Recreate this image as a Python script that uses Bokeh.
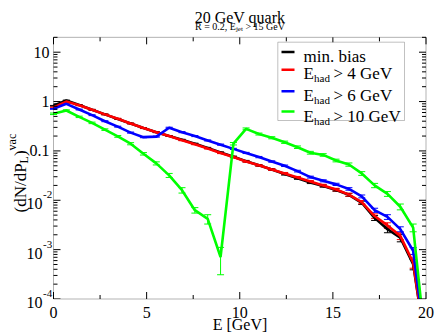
import math
from bokeh.plotting import figure
from bokeh.models import (Range1d, Label, BoxAnnotation, Whisker,
                          ColumnDataSource, TeeHead)
from bokeh.embed import file_html
from bokeh.resources import INLINE

# ---------------- data ----------------
energy = [0.0, 0.69, 1.38, 2.07, 2.76, 3.45, 4.14, 4.83, 5.52, 6.21,
          6.90, 7.59, 8.28, 8.97, 9.66, 10.34, 11.03, 11.72, 12.41, 13.10,
          13.79, 14.48, 15.17, 15.86, 16.55, 17.24, 17.93, 18.62, 19.31, 20.0]

min_bias = [0.82, 1.05, 0.85, 0.68, 0.55, 0.445, 0.36, 0.29, 0.24, 0.20,
            0.168, 0.14, 0.115, 0.093, 0.076, 0.062, 0.051, 0.042, 0.034, 0.028,
            0.023, 0.0195, 0.0162, 0.0129, 0.0089, 0.0044, 0.0026, 0.00174, 0.00051, 1e-5]
min_bias_err = [0.015, 0.02, 0.017, 0.014, 0.011, 0.009, 0.007, 0.006, 0.005, 0.004,
                0.004, 0.0035, 0.003, 0.0028, 0.0025, 0.0022, 0.002, 0.0018, 0.0016, 0.0014,
                0.0012, 0.0011, 0.001, 0.0009, 0.0007, 0.0005, 0.0004, 0.0003, 0.00012, 0.0]

had4 = [0.76, 1.0, 0.84, 0.68, 0.55, 0.45, 0.36, 0.29, 0.24, 0.20,
        0.165, 0.137, 0.112, 0.091, 0.075, 0.061, 0.051, 0.042, 0.035, 0.029,
        0.024, 0.020, 0.0165, 0.013, 0.0092, 0.0048, 0.0031, 0.0019, 0.00055, 1e-5]
had4_err = [0.015, 0.02, 0.017, 0.014, 0.011, 0.009, 0.007, 0.006, 0.005, 0.004,
            0.004, 0.0035, 0.003, 0.0028, 0.0025, 0.0022, 0.002, 0.0018, 0.0016, 0.0014,
            0.0012, 0.0011, 0.001, 0.0009, 0.0007, 0.0005, 0.0004, 0.0003, 0.00013, 0.0]

had6 = [0.71, 0.90, 0.69, 0.53, 0.40, 0.31, 0.235, 0.19, 0.195, 0.295,
        0.24, 0.20, 0.163, 0.134, 0.11, 0.091, 0.075, 0.061, 0.050, 0.039,
        0.0295, 0.0248, 0.021, 0.017, 0.012, 0.0063, 0.0046, 0.0026, 0.00095, 1e-5]
had6_err = [0.014, 0.018, 0.014, 0.011, 0.009, 0.007, 0.006, 0.005, 0.005, 0.007,
            0.006, 0.005, 0.004, 0.0035, 0.003, 0.0025, 0.0022, 0.002, 0.0017, 0.0015,
            0.0013, 0.0012, 0.0011, 0.001, 0.0008, 0.0006, 0.0005, 0.0003, 0.00015, 0.0]

had10 = [0.565, 0.66, 0.49, 0.37, 0.27, 0.197, 0.14, 0.0875, 0.056, 0.032,
         0.016, 0.0063, 0.0042, 0.00071, 0.14, 0.28, 0.22, 0.185, 0.15, 0.119,
         0.092, 0.083, 0.064, 0.053, 0.035, 0.020, 0.0135, 0.0074, 0.0028, 1e-5]
had10_err = [0.02, 0.02, 0.016, 0.013, 0.01, 0.008, 0.007, 0.005, 0.004, 0.003,
             0.002, 0.0008, 0.0009, 0.0004, 0.008, 0.012, 0.01, 0.009, 0.008, 0.007,
             0.006, 0.005, 0.004, 0.004, 0.003, 0.002, 0.0015, 0.001, 0.0005, 0.0]

series = [("min. bias", None, min_bias, min_bias_err, "#000000"),
          ("E", "> 4 GeV", had4, had4_err, "#ff0000"),
          ("E", "> 6 GeV", had6, had6_err, "#0000ff"),
          ("E", "> 10 GeV", had10, had10_err, "#00ff00")]

x_major = [0, 5, 10, 15, 20]
x_minor = [2.5, 7.5, 12.5, 17.5]
y_major = [1e-4, 1e-3, 1e-2, 1e-1, 1, 10]
y_minor = [m * 10.0 ** e for e in range(-4, 2) for m in range(2, 10)]
y_tick_text = [("10", "-4"), ("10", "-3"), ("10", "-2"), ("0.1", None), ("1", None), ("10", None)]

XMIN, XMAX, YMIN, YMAX = 0.0, 20.0, 1e-4, 20.0

# ---------------- geometry (pixels) ----------------
W, H = 436, 333
PX_X0, PX_X20 = 53.0, 425.5          # x = 0 and x = 20
PX_Y10, PX_YM4 = 51.7, 298.5         # y = 10 and y = 1e-4
SX = (PX_X20 - PX_X0) / (XMAX - XMIN)
DEC = (PX_YM4 - PX_Y10) / 5.0
FONT = "Liberation Serif"


def X(px):
    return XMIN + (px - PX_X0) / SX


def Y(py):
    return 10 ** (1 - (py - PX_Y10) / DEC)


def PY(val):
    return PX_Y10 + (1 - math.log10(val)) * DEC


p = figure(width=W, height=H, x_range=Range1d(X(0), X(W)), y_range=Range1d(Y(H), Y(0)),
           y_axis_type="log", output_backend="svg", toolbar_location=None,
           x_axis_location=None, y_axis_location=None, title=None,
           min_border=0, min_border_left=0, min_border_right=0,
           min_border_top=0, min_border_bottom=0)
p.xgrid.visible = False
p.ygrid.visible = False
p.outline_line_color = None
p.background_fill_color = "white"
p.border_fill_color = "white"

# ---------------- curves & error bars ----------------
for name, suffix, vals, errs, col in series:
    src = ColumnDataSource(dict(x=energy, y=vals,
                                up=[v + e for v, e in zip(vals, errs)],
                                lo=[max(v - e, 1e-7) for v, e in zip(vals, errs)]))
    p.add_layout(Whisker(source=src, base="x", upper="up", lower="lo",
                         line_color=col, line_width=1,
                         upper_head=TeeHead(size=7, line_color=col, line_width=1),
                         lower_head=TeeHead(size=7, line_color=col, line_width=1)))
    p.line("x", "y", source=src, line_color=col, line_width=2.6)

# ---------------- inward ticks on all four sides ----------------
MAJ, MIN = 7, 4
tx0, ty0, tx1, ty1 = [], [], [], []
for xv in x_major + x_minor:
    ln = MAJ if xv in x_major else MIN
    tx0 += [xv, xv]; tx1 += [xv, xv]
    ty0 += [YMIN, YMAX]; ty1 += [Y(PX_YM4 - ln), Y(PY(YMAX) + ln)]
for yv in y_major + y_minor:
    if yv > YMAX:
        continue
    ln = MAJ if yv in y_major else MIN
    tx0 += [XMIN, XMAX]; tx1 += [X(PX_X0 + ln), X(PX_X20 - ln)]
    ty0 += [yv, yv]; ty1 += [yv, yv]
p.segment(tx0, ty0, tx1, ty1, line_color="black", line_width=1)

# white mask below the plotting area (clips curves that fall off the bottom)
p.add_layout(BoxAnnotation(left=X(0), right=X(W), top=YMIN, bottom=Y(H),
                           fill_color="white", fill_alpha=1.0, line_alpha=0))
# plot frame
p.add_layout(BoxAnnotation(left=XMIN, right=XMAX, top=YMAX, bottom=YMIN,
                           fill_alpha=0, line_color="black", line_width=1))


def lab(text, px, py, size, align="left", baseline="alphabetic", angle=0.0):
    p.add_layout(Label(x=X(px), y=Y(py), text=text, text_font=FONT,
                       text_font_size=size, text_color="black", text_align=align,
                       text_baseline=baseline, angle=angle))


# ---------------- tick labels ----------------
for xv in x_major:
    lab(str(xv), PX_X0 + xv * SX, 312, "16px", align="center")
for val, (base, sup) in zip(y_major, y_tick_text):
    cy = PY(val)
    if sup is None:
        lab(base, 49, cy, "16px", align="right", baseline="middle")
    else:
        lab(base, 42, cy + 3.5, "16px", align="right", baseline="middle")
        lab(sup, 42.5, cy - 5.5, "11px", align="left", baseline="middle")

# ---------------- titles ----------------
CX = 239.5
lab("20 GeV quark", CX, 16.5, "16px", align="center")
lab("R = 0.2, E", CX - 45, 25.5, "10px")
lab("jet", CX - 4.1, 28, "7px")
lab("> 15 GeV", CX + 5.4, 25.5, "10px")

# x axis label
lab("E [GeV]", CX, 324, "16px", align="center")

# y axis label (rotated, reads bottom to top)
A = math.pi / 2
lab("(dN/dP", 19.5, 212, "17px", angle=A)
lab("L", 23.5, 162.9, "12px", angle=A)
lab(")", 19.5, 155.6, "17px", angle=A)
lab("vac", 11.5, 149.9, "12px", angle=A)

# ---------------- legend ----------------
p.add_layout(BoxAnnotation(left=X(277.3), right=X(404), top=Y(41.7), bottom=Y(120),
                           fill_color="white", fill_alpha=1.0,
                           line_color="#333333", line_width=1))
rows_line = [51.5, 69.3, 90.7, 111.0]
rows_base = [55.5, 73.3, 95.0, 116.0]
for (name, suffix, vals, errs, col), yl, yb in zip(series, rows_line, rows_base):
    p.add_layout(BoxAnnotation(left=X(281), right=X(294), top=Y(yl - 1.25), bottom=Y(yl + 1.25),
                               fill_color=col, fill_alpha=1.0, line_alpha=0))
    lab(name, 303, yb, "17px")
    if suffix is not None:
        lab("had", 313.5, yb + 4.5, "11px")
        lab(suffix, 333, yb, "17px")

open("out.html", "w").write(file_html(p, INLINE))
